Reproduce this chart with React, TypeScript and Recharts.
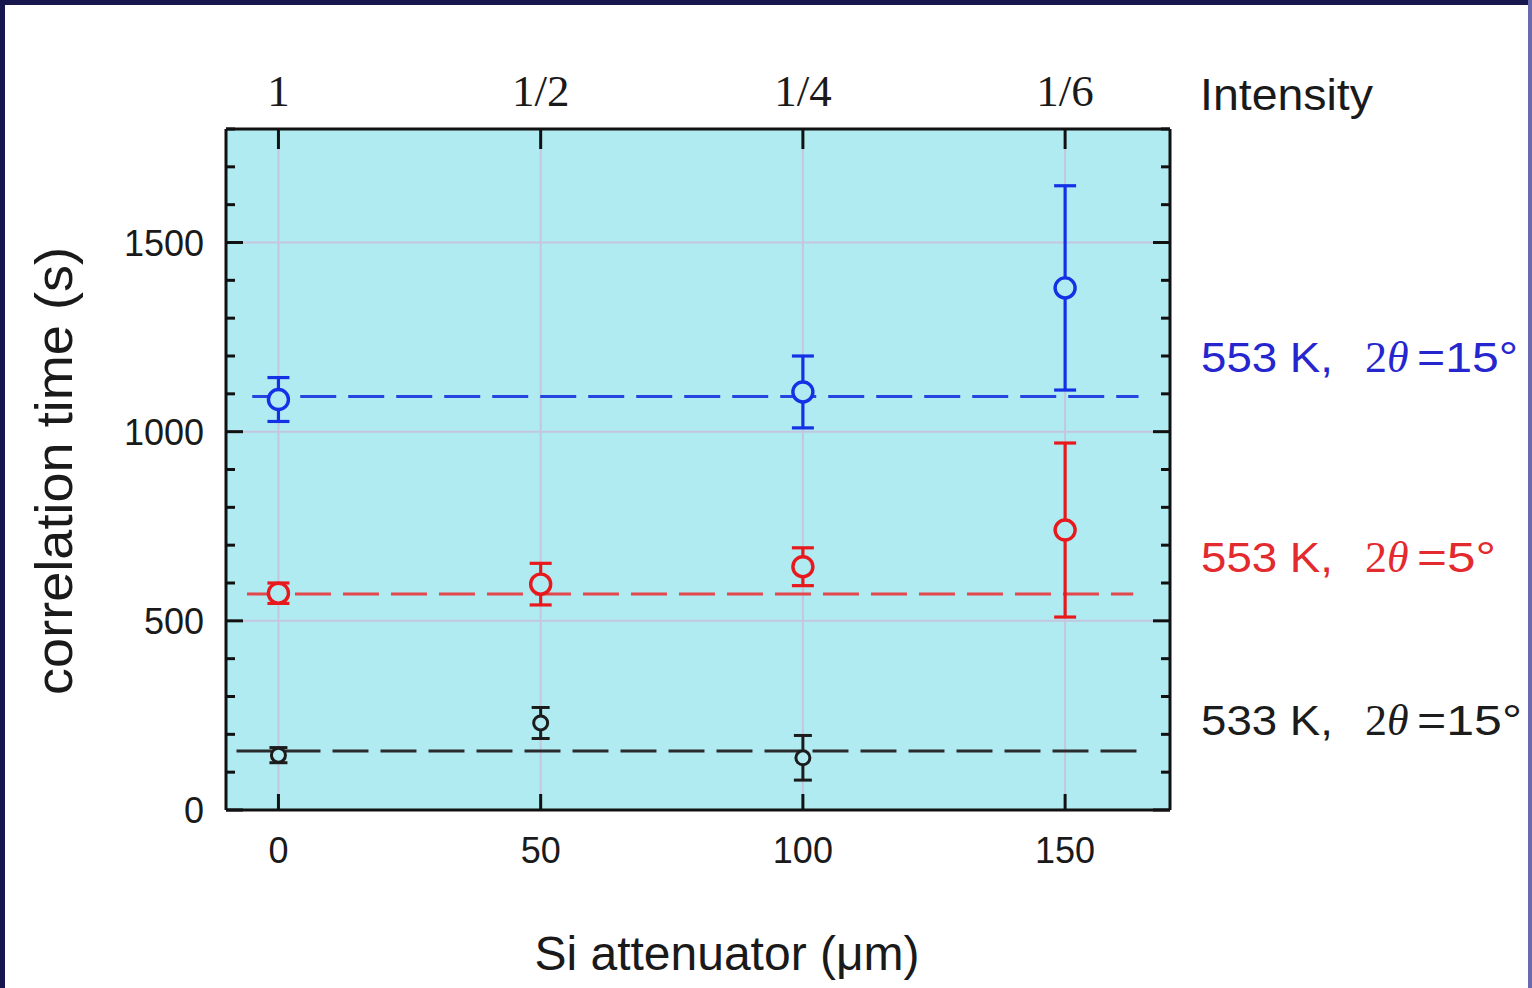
import {
  ComposedChart,
  Scatter,
  ErrorBar,
  XAxis,
  YAxis,
  CartesianGrid,
  ReferenceLine,
} from "recharts";

// x positions (Si attenuator thickness, µm) and the matching intensity on top
const xTicks = [0, 50, 100, 150];
const intensityLabels = ["1", "1/2", "1/4", "1/6"];

// y ticks: minor every 100, labelled every 500
const yTicks = [0, 100, 200, 300, 400, 500, 600, 700, 800, 900, 1000, 1100, 1200, 1300, 1400, 1500, 1600, 1700, 1800];
const yLabeled = [0, 500, 1000, 1500];
const gridY = [500, 1000, 1500];

// 553 K, 2θ = 15°
const blue553 = [
  { x: 0, y: 1085, err: 58 },
  { x: 100, y: 1105, err: 95 },
  { x: 150, y: 1380, err: 270 },
];
// 553 K, 2θ = 5°
const red553 = [
  { x: 0, y: 573, err: 27 },
  { x: 50, y: 597, err: 55 },
  { x: 100, y: 643, err: 50 },
  { x: 150, y: 740, err: 230 },
];
// 533 K, 2θ = 15°
const black533 = [
  { x: 0, y: 145, err: 20 },
  { x: 50, y: 230, err: 41 },
  { x: 100, y: 138, err: 59 },
];

// dashed average lines: [level, xStart, xEnd]
const blueFit = [1093, -5, 164];
const redFit = [571, -6, 163];
const blackFit = [156, -8, 165];

const BG = "#b1ebf2";
const AXIS = "#111111";
const GRID = "#c4c6de";
const BLUE = "#1531e6";
const RED = "#e8191c";
const BLACK = "#1c1c1c";
const SANS = "'Liberation Sans', Arial, sans-serif";
const SERIF = "'Liberation Serif', 'Times New Roman', serif";

const LeftTick = (p: any) => {
  const v = p.payload.value;
  const major = yLabeled.includes(v);
  return (
    <g>
      <line x1={p.x} x2={p.x + (major ? 17 : 9)} y1={p.y} y2={p.y} stroke={AXIS} strokeWidth={3} />
      {major && (
        <text x={p.x - 22} y={p.y + 13} textAnchor="end" fontSize={36} fontFamily={SANS} fill="#1a1a1a">
          {v}
        </text>
      )}
    </g>
  );
};

const RightTick = (p: any) => {
  const major = yLabeled.includes(p.payload.value);
  return <line x1={p.x} x2={p.x - (major ? 17 : 9)} y1={p.y} y2={p.y} stroke={AXIS} strokeWidth={3} />;
};

const BottomTick = (p: any) => (
  <g>
    <line x1={p.x} x2={p.x} y1={p.y} y2={p.y - 16} stroke={AXIS} strokeWidth={3} />
    <text x={p.x} y={p.y + 53} textAnchor="middle" fontSize={36} fontFamily={SANS} fill="#1a1a1a">
      {p.payload.value}
    </text>
  </g>
);

const TopTick = (p: any) => (
  <g>
    <line x1={p.x} x2={p.x} y1={p.y} y2={p.y + 20} stroke={AXIS} strokeWidth={3} />
    <text x={p.x} y={p.y - 23} textAnchor="middle" fontSize={45} fontFamily={SERIF} fill="#1a1a1a">
      {intensityLabels[xTicks.indexOf(p.payload.value)]}
    </text>
  </g>
);

const dot = (color: string, r: number, w: number) => (props: any) =>
  <circle cx={props.cx} cy={props.cy} r={r} fill={BG} stroke={color} strokeWidth={w} />;

const fitLine = (fit: number[], color: string) => (
  <ReferenceLine
    segment={[{ x: fit[1], y: fit[0] }, { x: fit[2], y: fit[0] }]}
    stroke={color}
    strokeWidth={3}
    strokeDasharray="36 12"
  />
);

const SeriesLabel = ({ y, color, head, tail, tailLen }: { y: number; color: string; head: string; tail: string; tailLen: number }) => (
  <g fill={color} fontSize={42}>
    <text x={1201} y={y} fontFamily={SANS} textLength={132} lengthAdjust="spacingAndGlyphs">
      {head}
    </text>
    <text x={1365} y={y} fontFamily={SERIF} fontSize={44}>
      <tspan>2</tspan>
      <tspan fontStyle="italic">θ</tspan>
    </text>
    <text x={1417} y={y} fontFamily={SANS} textLength={tailLen} lengthAdjust="spacingAndGlyphs">
      {tail}
    </text>
  </g>
);

export default function App() {
  return (
    <div style={{ position: "absolute", left: 0, top: 0, width: 1532, height: 988, background: "#fff", overflow: "hidden" }}>
      <ComposedChart width={1532} height={988} margin={{ top: 69, right: 352, bottom: 118, left: 126 }}>
        <CartesianGrid fill={BG} fillOpacity={1} stroke={GRID} strokeWidth={2} horizontal={false} />
        {gridY.map((v) => (
          <ReferenceLine key={v} y={v} stroke={GRID} strokeWidth={2} />
        ))}
        <XAxis
          dataKey="x"
          type="number"
          domain={[-10, 170]}
          ticks={xTicks}
          allowDataOverflow
          height={60}
          interval={0}
          tickSize={0}
          tickMargin={0}
          tickLine={false}
          tick={<BottomTick />}
          axisLine={{ stroke: AXIS, strokeWidth: 3 }}
        />
        <XAxis
          xAxisId="top"
          dataKey="x"
          orientation="top"
          type="number"
          domain={[-10, 170]}
          ticks={xTicks}
          allowDataOverflow
          height={60}
          interval={0}
          tickSize={0}
          tickMargin={0}
          tickLine={false}
          tick={<TopTick />}
          axisLine={{ stroke: AXIS, strokeWidth: 3 }}
        />
        <YAxis
          type="number"
          domain={[0, 1800]}
          ticks={yTicks}
          allowDataOverflow
          width={100}
          interval={0}
          tickSize={0}
          tickMargin={0}
          tickLine={false}
          tick={<LeftTick />}
          axisLine={{ stroke: AXIS, strokeWidth: 3 }}
        />
        <YAxis
          yAxisId="right"
          orientation="right"
          type="number"
          domain={[0, 1800]}
          ticks={yTicks}
          allowDataOverflow
          width={10}
          interval={0}
          tickSize={0}
          tickMargin={0}
          tickLine={false}
          tick={<RightTick />}
          axisLine={{ stroke: AXIS, strokeWidth: 3 }}
        />
        {fitLine(blueFit, "#2743e0")}
        {fitLine(redFit, "#e2474b")}
        {fitLine(blackFit, "#2a2a2a")}
        <Scatter data={blue553} dataKey="y" isAnimationActive={false} shape={dot(BLUE, 10, 3.4)}>
          <ErrorBar dataKey="err" direction="y" width={11} stroke={BLUE} strokeWidth={3.2} />
        </Scatter>
        <Scatter data={red553} dataKey="y" isAnimationActive={false} shape={dot(RED, 10, 3.4)}>
          <ErrorBar dataKey="err" direction="y" width={11} stroke={RED} strokeWidth={3.2} />
        </Scatter>
        <Scatter data={black533} dataKey="y" isAnimationActive={false} shape={dot(BLACK, 7, 3)}>
          <ErrorBar dataKey="err" direction="y" width={9} stroke={BLACK} strokeWidth={3} />
        </Scatter>
      </ComposedChart>

      <svg width={1532} height={988} style={{ position: "absolute", left: 0, top: 0, pointerEvents: "none" }}>
        <text
          x={72}
          y={471}
          transform="rotate(-90 72 471)"
          textAnchor="middle"
          fontSize={52}
          fontFamily={SANS}
          fill="#1a1a1a"
          textLength={448}
          lengthAdjust="spacingAndGlyphs"
        >
          correlation time (s)
        </text>
        <text x={727} y={970} textAnchor="middle" fontSize={48} fontFamily={SANS} fill="#1a1a1a">
          Si attenuator (μm)
        </text>
        <text x={1200} y={110} fontSize={45} fontFamily={SANS} fill="#1a1a1a" textLength={173} lengthAdjust="spacingAndGlyphs">
          Intensity
        </text>
        <SeriesLabel y={372} color="#2626cf" head="553 K," tail="=15°" tailLen={101} />
        <SeriesLabel y={572} color="#e32a2e" head="553 K," tail="=5°" tailLen={79} />
        <SeriesLabel y={735} color="#1c1c1c" head="533 K," tail="=15°" tailLen={105} />
      </svg>

      <div style={{ position: "absolute", left: 0, top: 0, width: 1532, height: 5, background: "#17164d" }} />
      <div style={{ position: "absolute", left: 0, top: 0, width: 5, height: 988, background: "#17164d" }} />
      <div style={{ position: "absolute", left: 1528, top: 0, width: 4, height: 988, background: "#6a6ab0" }} />
    </div>
  );
}
